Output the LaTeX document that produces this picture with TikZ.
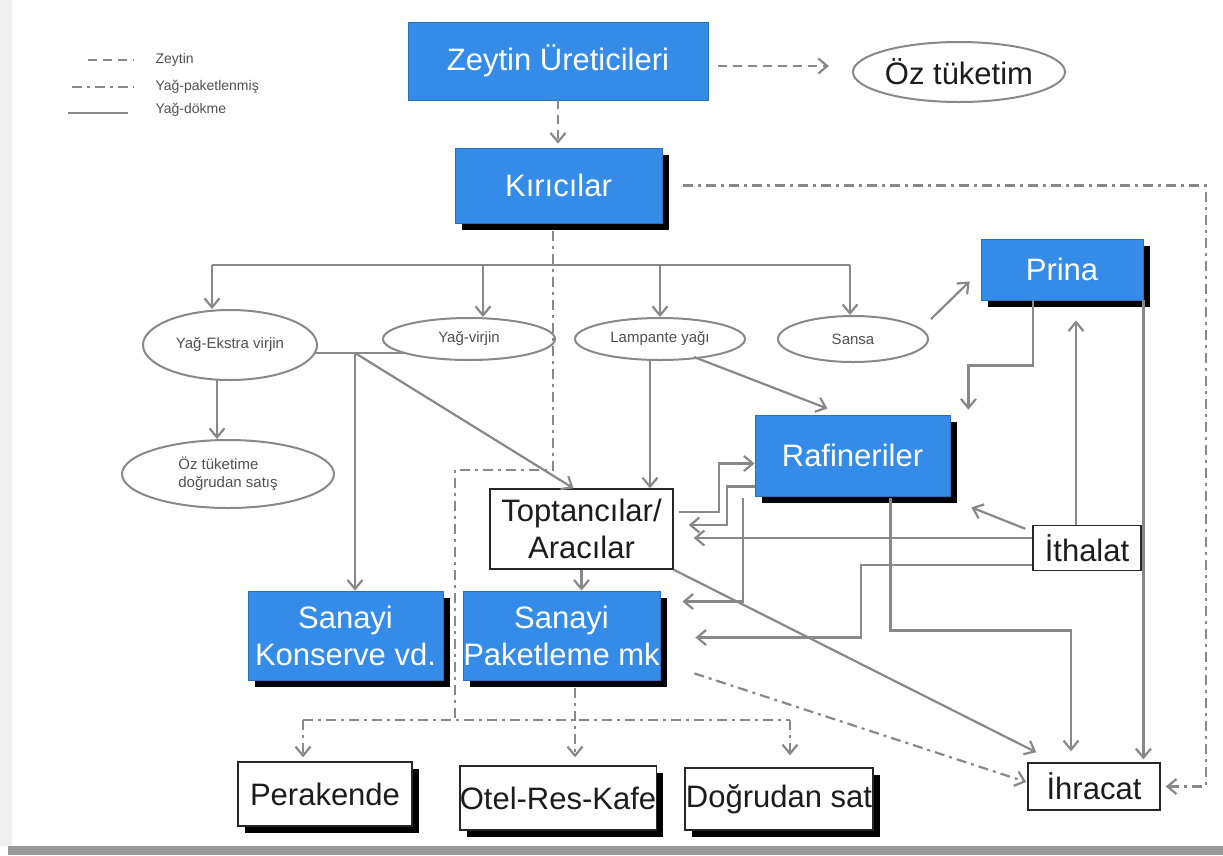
\documentclass[tikz,border=0pt]{standalone}
\usepackage{fontspec}
\setmainfont{Liberation Sans}
\usetikzlibrary{arrows.meta,shapes.geometric,shadows,calc}
\definecolor{myblue}{RGB}{52,140,232}
\definecolor{lgray}{RGB}{136,136,136}
\definecolor{txtdark}{RGB}{28,28,28}
\definecolor{txtsmall}{RGB}{80,80,80}
\begin{document}
\begin{tikzpicture}[x=1pt,y=-1pt,
  big/.style={font=\fontsize{31}{37}\selectfont},
  small/.style={font=\fontsize{15}{18}\selectfont, text=txtsmall},
  bluebox/.style={big, fill=myblue, draw=myblue!80!black, line width=0.8pt, text=white, inner sep=0pt, align=center},
  shd/.style={drop shadow={shadow xshift=7pt, shadow yshift=-7pt, opacity=1, fill=black}},
  whitebox/.style={big, fill=white, draw=black!85, line width=1.4pt, text=txtdark, inner sep=0pt, align=center},
  oval/.style={ellipse, draw=lgray, line width=2pt, fill=white, inner sep=0pt, small},
  conn/.style={draw=lgray, line width=2.2pt},
  arr/.style={conn, -{Straight Barb[length=9pt,width=15pt]}},
  zey/.style={dash pattern=on 9pt off 6pt},
  pak/.style={dash pattern=on 10pt off 5pt on 3pt off 5pt},
]
\useasboundingbox (0,0) rectangle (1223,855);
\fill[white] (0,0) rectangle (1223,855);
\fill[black!6] (0,0) rectangle (12,846);
\fill[black!40] (8,846) rectangle (1223,855);

% legend
\draw[conn,zey,line width=1.8pt] (88,60) -- (134,60);
\draw[conn,pak,line width=1.8pt] (72,87) -- (134,87);
\draw[conn,line width=1.8pt] (68,113) -- (128,113);
\node[anchor=west, font=\fontsize{14}{16}\selectfont, text=txtsmall] (lg1) at (152,60) {Zeytin};
\node[anchor=west, font=\fontsize{14}{16}\selectfont, text=txtsmall] (lg2) at (152,87) {Yağ-paketlenmiş};
\node[anchor=west, font=\fontsize{14}{16}\selectfont, text=txtsmall] (lg3) at (152,110) {Yağ-dökme};

% nodes
\node[bluebox, minimum width=300pt, minimum height=78pt] (zu) at (558,61) {Zeytin Üreticileri};
\node[oval, big, text=txtdark, minimum width=212pt, minimum height=60pt] (oz) at (959,72) {Öz tüketim};
\node[bluebox, shd, minimum width=207pt, minimum height=75pt] (kir) at (558.5,185.5) {Kırıcılar};

\node[oval, minimum width=174pt, minimum height=70pt] (ekstra) at (230,345) {Yağ-Ekstra virjin};
\node[oval, minimum width=172pt, minimum height=42pt] (virjin) at (469,339) {Yağ-virjin};
\node[oval, minimum width=170pt, minimum height=42pt] (lamp) at (660,339) {Lampante yağı};
\node[oval, minimum width=150pt, minimum height=46pt] (sansa) at (853,339) {Sansa};
\node[bluebox, shd, minimum width=162pt, minimum height=61pt] (prina) at (1062,269.5) {Prina};
\node[oval, align=left, minimum width=212pt, minimum height=68pt] (ozdog) at (228,474) {Öz tüketime\\doğrudan satış};

\node[bluebox, shd, minimum width=195pt, minimum height=81pt] (raf) at (852.5,455.5) {Rafineriler};
\node[whitebox, minimum width=183pt, minimum height=80pt] (top) at (581.5,529) {Toptancılar/\\Aracılar};
\node[whitebox, minimum width=108pt, minimum height=45pt] (ith) at (1087,548) {İthalat};

\node[bluebox, shd, minimum width=195pt, minimum height=89pt] (kons) at (345.5,635.5) {Sanayi\\Konserve vd.};
\node[bluebox, shd, minimum width=197pt, minimum height=89pt] (pak) at (561.5,635.5) {Sanayi\\Paketleme mk};

\node[whitebox, shd, minimum width=174pt, minimum height=64pt] (per) at (325,794) {Perakende};
\node[whitebox, shd, minimum width=188pt, minimum height=64pt] (otel) at (558,798) {Otel-Res-Kafe};
\node[whitebox, shd, minimum width=188pt, minimum height=62pt] (dog) at (779,799) {Doğrudan sat};
\node[whitebox, minimum width=132pt, minimum height=47pt] (ihr) at (1094,786.5) {İhracat};

% Zeytin (dashed)
\coordinate (kt) at ($(kir.north)+(0,-4)$);
\draw[arr,zey] (zu.south) -- (zu.south |- kt);
\draw[arr,zey] ($(zu.east)+(10,5)$) -- ($(oz.west)+(-23,-6)$);

% branch from Kiricilar
\coordinate (b1) at (212,265);
\coordinate (b2) at (483,265);
\coordinate (b3) at (660,265);
\coordinate (b4) at (850,265);
\draw[conn] (b1) -- (b4);
\draw[arr] (b1) -- (b1 |- ekstra.north);
\draw[arr] (b2) -- (b2 |- virjin.north);
\draw[arr] (b3) -- (b3 |- lamp.north);
\draw[arr] (b4) -- (b4 |- sansa.north);

% Sansa -> Prina
\draw[arr] ($(sansa.east)+(2,-20)$) -- ($(prina.south west)+(-11,-19)$);

% Ekstra -> Oz tuketime
\coordinate (e1) at (217,380);
\draw[arr] (e1) -- (e1 |- ozdog.north);

% Ekstra / virjin junction
\coordinate (jl) at (315,353);
\coordinate (jr) at (405,353);
\coordinate (jd) at (355,353);
\draw[conn] (jl) -- (jr);
\draw[arr] (jd) -- (jd |- kons.north);
\draw[arr] (jd) -- ($(top.north)+(-8,0)$);

% Lampante
\coordinate (l1) at (650,359);
\draw[arr] (l1) -- (l1 |- top.north);
\draw[arr] (694,357) -- ($(raf.north)+(-25,-6)$);

% Prina
\draw[arr] ($(prina.south)+(-29,0)$) -- ++(0,65) -| ($(raf.north east)+(18,-5)$);
\draw[arr] (prina.south east) -- ($(prina.south east |- ihr.north)+(0,-3)$);

% Ithalat
\draw[arr] ($(ith.north)+(-11,0)$) -- ($(prina.south)+(14,20)$);
\draw[arr] ($(ith.north west)+(-7,4)$) -- ($(raf.south east)+(21,11)$);
\draw[arr] ($(ith.west)+(0,-10)$) -- ($(top.east)+(20,9)$);
\draw[arr] ($(ith.west)+(0,17)$) -- ++(-171,0) |- ($(pak.east)+(35,2)$);

% Toptancilar <-> Rafineriler
\draw[arr] ($(top.east)+(5,-17)$) -- ++(40,0) |- ($(raf.west)+(0,8)$);
\draw[arr] ($(raf.west)+(0,31)$) -- ++(-28,0) |- ($(top.east)+(15,-4)$);

% Rafineriler -> Sanayi Paketleme, Ihracat
\draw[arr] ($(raf.south west)+(-12,2)$) |- ($(pak.east)+(22,-34)$);
\draw[arr] ($(raf.south)+(38,2)$) -- ++(0,132) -| ($(ihr.north)+(-23,-11)$);

% Toptancilar -> Ihracat, Paketleme
\draw[arr] (top.south east) -- ($(ihr.north west)+(9,-10)$);
\draw[arr] (top.south) -- (top.south |- pak.north);

% Yag-paketlenmis (dash-dot)
\draw[arr,pak] ($(kir.east)+(21,0)$) -| ($(ihr.east)+(45,0)$) -- ($(ihr.east)+(5,0)$);
\coordinate (d1) at (553,470);
\coordinate (d2) at (455,470);
\coordinate (d3) at (455,720);
\coordinate (hl) at (303,720);
\coordinate (hm) at (575,720);
\coordinate (hr) at (790,720);
\draw[conn,pak] ($(kir.south)+(-5.5,8)$) -- (d1) -- (d2) -- (d3);
\draw[conn,pak] (hl) -- (hr);
\draw[arr,pak] (hl) -- ($(hl |- per.north)+(0,-4)$);
\draw[arr,pak] ($(pak.south)+(13.5,8)$) -- ($(hm |- otel.north)+(0,-8)$);
\draw[arr,pak] (hr) -- ($(hr |- dog.north)+(0,-12)$);
\draw[arr,pak] ($(pak.south east)+(34,-7)$) -- ($(ihr.west)+(-1,-4.5)$);
\end{tikzpicture}
\end{document}
